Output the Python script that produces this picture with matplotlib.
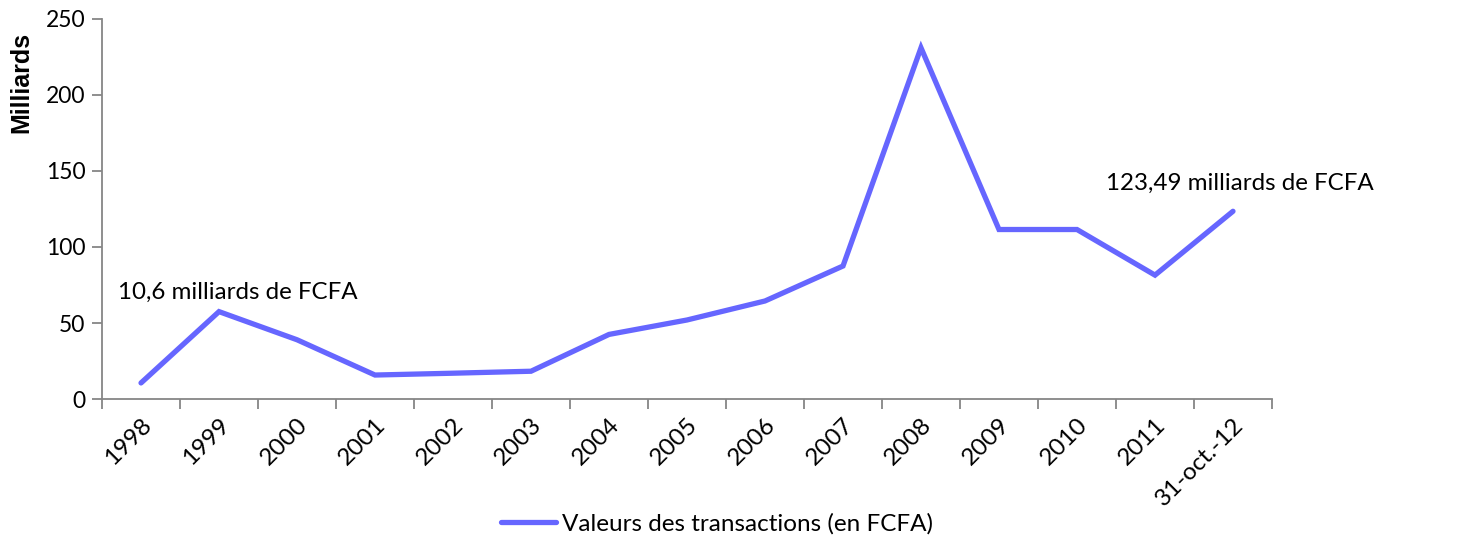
import matplotlib.pyplot as plt
import numpy as np

plt.rcParams['font.family'] = ['Lato', 'DejaVu Sans']

years = ['1998', '1999', '2000', '2001', '2002', '2003', '2004', '2005',
         '2006', '2007', '2008', '2009', '2010', '2011', '31-oct.-12']
valeurs = [10.6, 57.5, 39, 15.8, 17, 18.3, 42.5, 52, 64.5, 87.5, 231, 111.5, 111.5, 81.5, 123.49]

fig = plt.figure(figsize=(14.7, 5.4), dpi=100)
ax = fig.add_axes([0.0694, 0.261, 0.7959, 0.704])

x = np.arange(len(years))
ax.plot(x, valeurs, color='#6666FF', linewidth=3.8, solid_capstyle='round',
        solid_joinstyle='miter', label='Valeurs des transactions (en FCFA)')

ax.set_xlim(-0.5, len(years) - 0.5)
ax.set_ylim(0, 250)
ax.set_yticks(np.arange(0, 251, 50))
ax.set_xticks(x)
ax.set_xticklabels(years, rotation=45, ha='right', rotation_mode='anchor')
ax.set_xticks(np.arange(-0.5, len(years), 1), minor=True)
ax.tick_params(axis='x', which='major', length=0, pad=11, labelsize=17.5)
ax.tick_params(axis='x', which='minor', length=7, width=1.3, color='#868686', direction='out')
ax.tick_params(axis='y', length=7, width=1.3, color='#868686', labelsize=16.5, pad=5)

for s in ['top', 'right']:
    ax.spines[s].set_visible(False)
for s in ['left', 'bottom']:
    ax.spines[s].set_color('#868686')
    ax.spines[s].set_linewidth(1.3)

ax.set_ylabel('Milliards', family='Liberation Sans', fontweight='bold', fontsize=18)
ax.yaxis.set_label_coords(-0.059, 0.834)

ax.text(-0.3, 70.4, '10,6 milliards de FCFA', fontsize=17.4, va='center', ha='left')
ax.text(12.37, 142, '123,49 milliards de FCFA', fontsize=17.4, va='center', ha='left')

fig.legend(loc='center', bbox_to_anchor=(0.488, 0.03), frameon=False, fontsize=17.5,
           handlelength=2.26, handletextpad=0.25)

fig.savefig('out.png', dpi=100)
